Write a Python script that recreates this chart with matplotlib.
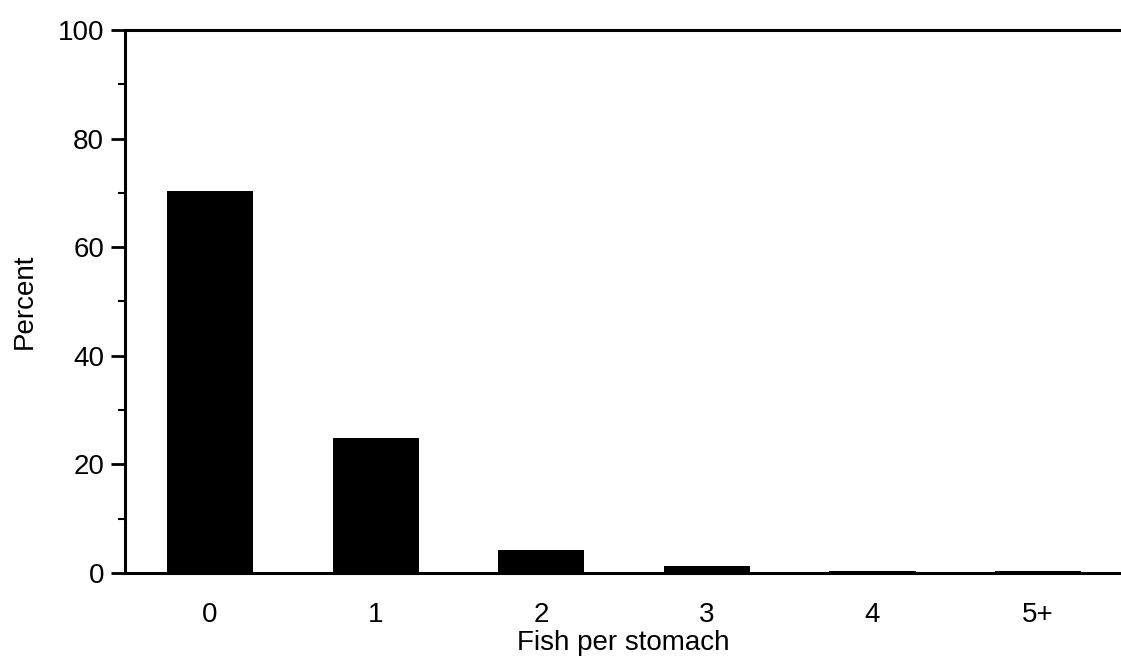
import numpy as np
import matplotlib
matplotlib.use("Agg")
import matplotlib.pyplot as plt
from matplotlib.ticker import MultipleLocator

categories = ["0", "1", "2", "3", "4", "5+"]
percent = [70.4, 24.9, 4.2, 1.3, 0.3, 0.4]

plt.rcParams["font.family"] = ["Liberation Sans", "DejaVu Sans"]
plt.rcParams["font.size"] = 20

fig = plt.figure(figsize=(11.21, 6.66), dpi=100)
ax = fig.add_axes([0.1115, 0.1396, 0.8885, 0.8154])

x = np.arange(len(categories))
ax.bar(x, percent, width=0.52, color="black", edgecolor="none")

ax.set_xlim(-0.513, 5.5)
ax.set_ylim(0, 100)
ax.set_xticks(x)
ax.set_xticklabels(categories)
ax.yaxis.set_major_locator(MultipleLocator(20))
ax.yaxis.set_minor_locator(MultipleLocator(10))

ax.tick_params(axis="x", length=0, pad=21)
ax.tick_params(axis="y", which="major", length=10, width=2, pad=5)
ax.tick_params(axis="y", which="minor", length=5, width=1.5)

for side in ["left", "bottom", "top"]:
    ax.spines[side].set_linewidth(2.2)
ax.spines["right"].set_visible(False)

ax.set_xlabel("Fish per stomach", labelpad=1)
ax.set_ylabel("Percent", labelpad=14)

fig.savefig("out.png", dpi=100)
